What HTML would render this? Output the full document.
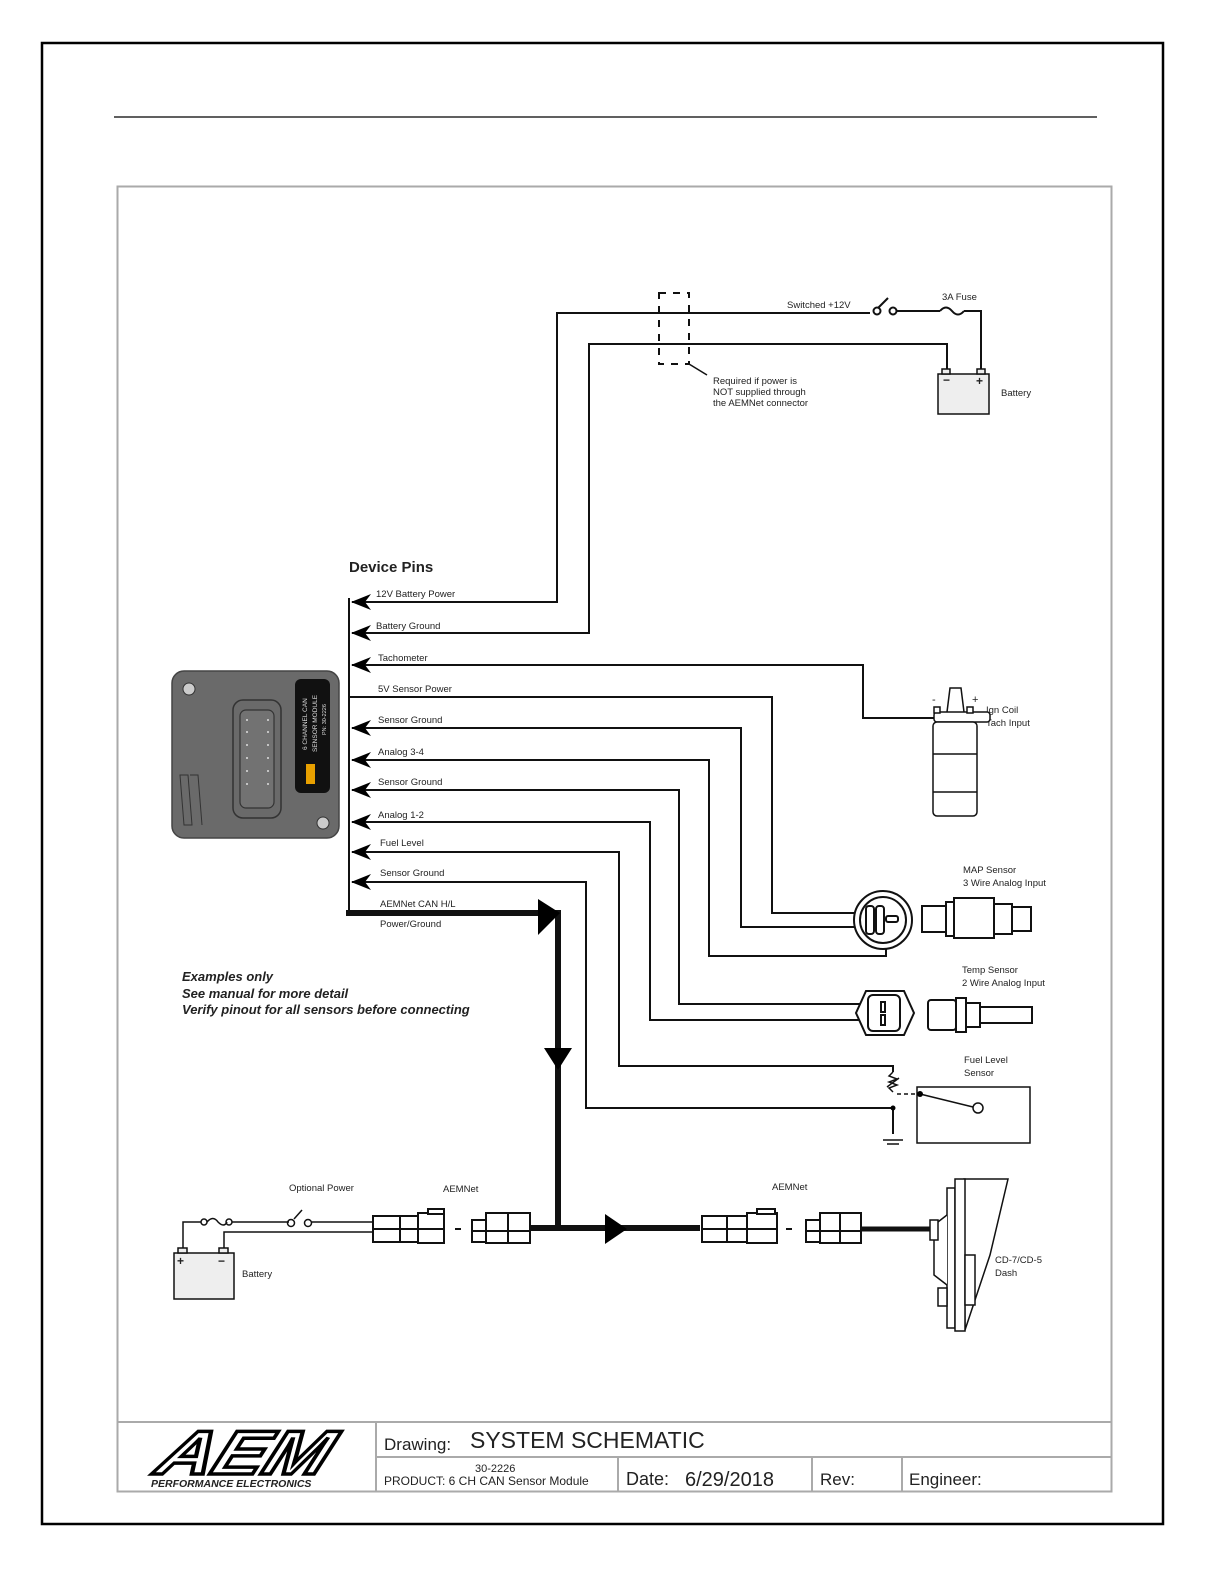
<!DOCTYPE html>
<html><head><meta charset="utf-8"><style>
html,body{margin:0;padding:0;background:#fff;overflow:hidden;width:1224px;height:1584px}
svg{display:block}
text{font-family:"Liberation Sans",sans-serif;fill:#222}
</style></head><body>
<svg width="1224" height="1584" viewBox="0 0 1224 1584" xmlns="http://www.w3.org/2000/svg">
<rect x="42" y="43" width="1121" height="1481" fill="none" stroke="#000" stroke-width="2.5"/>
<line x1="114" y1="117" x2="1097" y2="117" stroke="#000" stroke-width="1.2"/>
<rect x="117.5" y="186.5" width="994" height="1305" fill="none" stroke="#aaa" stroke-width="2"/>
<!-- title block -->
<g stroke="#aaa" stroke-width="2" fill="none">
<line x1="117" y1="1422" x2="1112" y2="1422"/>
<line x1="376" y1="1422" x2="376" y2="1491"/>
<line x1="376" y1="1457" x2="1112" y2="1457"/>
<line x1="618" y1="1457" x2="618" y2="1491"/>
<line x1="812" y1="1457" x2="812" y2="1491"/>
<line x1="902" y1="1457" x2="902" y2="1491"/>
</g>
<text x="384" y="1450" font-size="17">Drawing:</text>
<text x="470" y="1448" font-size="23">SYSTEM SCHEMATIC</text>
<text x="475" y="1472" font-size="11">30-2226</text>
<text x="384" y="1485" font-size="12">PRODUCT:  6 CH CAN Sensor Module</text>
<text x="626" y="1485" font-size="18">Date:</text>
<text x="685" y="1486" font-size="20">6/29/2018</text>
<text x="820" y="1485" font-size="17">Rev:</text>
<text x="909" y="1485" font-size="17">Engineer:</text>
<!-- AEM logo -->
<g transform="translate(238,1474) skewX(-22)">
<text x="0" y="0" font-size="62" font-weight="bold" font-style="italic" style="fill:#fff;stroke:#000;stroke-width:3.5" text-anchor="middle" textLength="170" lengthAdjust="spacingAndGlyphs">AEM</text>
</g>
<text x="151" y="1487" font-size="10.5" font-weight="bold" font-style="italic">PERFORMANCE ELECTRONICS</text>

<g fill="none" stroke="#111" stroke-width="2">
<line x1="349" y1="598" x2="349" y2="916"/>
<polyline points="352,602 557,602 557,313 870,313"/>
<circle cx="877" cy="311" r="3.5"/><circle cx="893" cy="311" r="3.5"/>
<line x1="878" y1="308" x2="888" y2="298"/>
<line x1="897" y1="311" x2="940" y2="311"/>
<path d="M940,311 q6,-7 12,0 q6,7 12,0" />
<polyline points="964,311 981,311 981,373"/>
<polyline points="352,633 589,633 589,344 947,344 947,373"/>
<polyline points="937,718 863,718 863,665 352,665"/>
<polyline points="349,697 772,697 772,913 862,913"/>
<polyline points="870,927 741,927 741,728 352,728"/>
<polyline points="886,928 886,956 709,956 709,760 352,760"/>
<polyline points="880,1004 679,1004 679,790 352,790"/>
<polyline points="880,1020 650,1020 650,822 352,822"/>
<polyline points="893,1072 893,1066 619,1066 619,852 352,852"/>
<polyline points="893,1134 893,1108 586,1108 586,882 352,882"/>
</g>
<g fill="#000">
<path d="M351,602 l20,-8 l-6,8 l6,8 Z"/>
<path d="M351,633 l20,-8 l-6,8 l6,8 Z"/>
<path d="M351,665 l20,-8 l-6,8 l6,8 Z"/>
<path d="M351,728 l20,-8 l-6,8 l6,8 Z"/>
<path d="M351,760 l20,-8 l-6,8 l6,8 Z"/>
<path d="M351,790 l20,-8 l-6,8 l6,8 Z"/>
<path d="M351,822 l20,-8 l-6,8 l6,8 Z"/>
<path d="M351,852 l20,-8 l-6,8 l6,8 Z"/>
<path d="M351,882 l20,-8 l-6,8 l6,8 Z"/>
</g>
<!-- thick CAN -->
<g stroke="#111" stroke-width="6" fill="none">
<polyline points="346,913 558,913 558,1228 530,1228"/>
<line x1="558" y1="1228" x2="700" y2="1228"/>
</g>
<path d="M538,899 L560,913 L538,935 Z" fill="#000"/>
<path d="M544,1048 L572,1048 L558,1070 Z" fill="#000"/>
<path d="M605,1214 L627,1229 L605,1244 Z" fill="#000"/>

<!-- labels -->
<text x="349" y="572" font-size="15" font-weight="bold">Device Pins</text>
<g font-size="9.5">
<text x="376" y="597">12V Battery Power</text>
<text x="376" y="629">Battery Ground</text>
<text x="378" y="661">Tachometer</text>
<text x="378" y="692">5V Sensor Power</text>
<text x="378" y="723">Sensor Ground</text>
<text x="378" y="755">Analog 3-4</text>
<text x="378" y="785">Sensor Ground</text>
<text x="378" y="818">Analog 1-2</text>
<text x="380" y="846">Fuel Level</text>
<text x="380" y="876">Sensor Ground</text>
<text x="380" y="907">AEMNet CAN H/L</text>
<text x="380" y="927">Power/Ground</text>
<text x="787" y="308">Switched +12V</text>
<text x="942" y="300">3A Fuse</text>
<text x="713" y="384">Required if power is</text>
<text x="713" y="395">NOT supplied through</text>
<text x="713" y="406">the AEMNet connector</text>
<text x="1001" y="396">Battery</text>
<text x="986" y="713">Ign Coil</text>
<text x="986" y="726">Tach Input</text>
<text x="963" y="873">MAP Sensor</text>
<text x="963" y="886">3 Wire Analog Input</text>
<text x="962" y="973">Temp Sensor</text>
<text x="962" y="986">2 Wire Analog Input</text>
<text x="964" y="1063">Fuel Level</text>
<text x="964" y="1076">Sensor</text>
<text x="289" y="1191">Optional Power</text>
<text x="443" y="1192">AEMNet</text>
<text x="772" y="1190">AEMNet</text>
<text x="242" y="1277">Battery</text>
<text x="995" y="1263">CD-7/CD-5</text>
<text x="995" y="1276">Dash</text>
</g>
<g font-size="13" font-weight="bold" font-style="italic">
<text x="182" y="981">Examples only</text>
<text x="182" y="998">See manual for more detail</text>
<text x="182" y="1014">Verify pinout for all sensors before connecting</text>
</g>

<rect x="659" y="293" width="30" height="71" fill="none" stroke="#111" stroke-width="2" stroke-dasharray="7,7"/>
<line x1="689" y1="364" x2="707" y2="375" stroke="#111" stroke-width="1.5"/>
<g stroke="#111" stroke-width="1.5">
<rect x="938" y="374" width="51" height="40" fill="#eee"/>
<rect x="942" y="369" width="8" height="5" fill="#eee"/>
<rect x="977" y="369" width="8" height="5" fill="#eee"/>
</g>
<text x="943" y="384" font-size="12" font-weight="bold">−</text>
<text x="976" y="385" font-size="12" font-weight="bold">+</text>

<!-- module -->
<rect x="172" y="671" width="167" height="167" rx="12" fill="#6a6a6a" stroke="#444" stroke-width="1.5"/>
<circle cx="189" cy="689" r="6" fill="#ccc" stroke="#333"/>
<circle cx="323" cy="823" r="6" fill="#ccc" stroke="#333"/>
<rect x="233" y="700" width="48" height="118" rx="10" fill="#6a6a6a" stroke="#333" stroke-width="1.5"/>
<rect x="240" y="710" width="34" height="98" rx="6" fill="#727272" stroke="#333" stroke-width="1.2"/>
<g fill="#ddd"><circle cx="247" cy="720" r="1"/><circle cx="247" cy="732" r="1"/><circle cx="247" cy="745" r="1"/><circle cx="247" cy="758" r="1"/><circle cx="247" cy="771" r="1"/><circle cx="247" cy="784" r="1"/><circle cx="268" cy="720" r="1"/><circle cx="268" cy="732" r="1"/><circle cx="268" cy="745" r="1"/><circle cx="268" cy="758" r="1"/><circle cx="268" cy="771" r="1"/><circle cx="268" cy="784" r="1"/></g>
<rect x="295" y="679" width="35" height="114" rx="6" fill="#111"/>
<text transform="translate(307,750) rotate(-90)" font-size="6.5" style="fill:#ddd">6 CHANNEL CAN</text>
<text transform="translate(317,752) rotate(-90)" font-size="6.5" style="fill:#ddd">SENSOR MODULE</text>
<text transform="translate(326,735) rotate(-90)" font-size="5.5" style="fill:#ddd">PN: 30-2226</text>
<rect x="306" y="764" width="9" height="20" fill="#e8a000"/>
<g stroke="#333" stroke-width="1" fill="none"><path d="M180,775 l8,0 l4,50 l-8,0 z M190,775 l8,0 l4,50"/></g>

<!-- ign coil -->
<g stroke="#111" stroke-width="1.5" fill="#fff">
<path d="M947,712 L950,688 L961,688 L964,712"/>
<rect x="934" y="712" width="56" height="10" rx="3"/>
<rect x="934" y="707" width="6" height="6"/><rect x="967" y="707" width="6" height="6"/>
<rect x="933" y="722" width="44" height="94" rx="4"/>
<line x1="933" y1="754" x2="977" y2="754"/><line x1="933" y1="792" x2="977" y2="792"/>
</g>
<text x="932" y="703" font-size="11">-</text>
<text x="972" y="703" font-size="11">+</text>

<!-- MAP sensor -->
<g stroke="#111" stroke-width="2" fill="#fff">
<circle cx="883" cy="920" r="29"/><circle cx="883" cy="920" r="23"/>
<rect x="866" y="906" width="8" height="28" rx="3"/>
<rect x="876" y="906" width="8" height="28" rx="3"/>
<rect x="886" y="916" width="12" height="6" rx="2"/>
<rect x="922" y="906" width="24" height="26"/>
<rect x="946" y="902" width="8" height="34"/>
<rect x="954" y="898" width="40" height="40"/>
<rect x="994" y="904" width="18" height="30"/>
<rect x="1012" y="907" width="19" height="24"/>
</g>
<!-- temp sensor -->
<g stroke="#111" stroke-width="2" fill="#fff">
<path d="M866,991 L904,991 L914,1013 L904,1035 L866,1035 L856,1013 Z"/>
<rect x="868" y="995" width="32" height="36" rx="5"/>
<rect x="881" y="1002" width="4" height="10"/><rect x="881" y="1015" width="4" height="10"/>
<rect x="928" y="1000" width="28" height="30" rx="3"/>
<rect x="956" y="998" width="10" height="34"/>
<rect x="966" y="1003" width="14" height="24"/>
<rect x="980" y="1007" width="52" height="16"/>
</g>
<!-- fuel sensor -->
<g stroke="#111" stroke-width="1.5" fill="none">
<rect x="917" y="1087" width="113" height="56"/>
<path d="M893,1072 l-4,4 l8,3 l-8,3 l8,3 l-8,3 l4,4"/>
<line x1="887" y1="1087" x2="899" y2="1078"/>
<line x1="897" y1="1094" x2="917" y2="1094" stroke-dasharray="4,3"/>
<line x1="920" y1="1094" x2="973" y2="1107"/>
<circle cx="978" cy="1108" r="5" fill="#fff"/>
<line x1="883" y1="1140" x2="903" y2="1140"/><line x1="887" y1="1144" x2="899" y2="1144"/>
</g>
<circle cx="920" cy="1094" r="3" fill="#000"/>
<circle cx="893" cy="1108" r="2.5" fill="#000"/>

<!-- bottom battery -->
<g stroke="#111" stroke-width="1.5" fill="none">
<polyline points="183,1248 183,1222 201,1222"/>
<circle cx="204" cy="1222" r="3"/>
<path d="M207,1222 q6,-7 11,0 q6,6 9,0"/>
<circle cx="229" cy="1222" r="3"/>
<line x1="232" y1="1222" x2="289" y2="1222"/>
<circle cx="291" cy="1223" r="3.5"/><circle cx="308" cy="1223" r="3.5"/>
<line x1="294" y1="1219" x2="302" y2="1210"/>
<line x1="312" y1="1222" x2="372" y2="1222"/>
<polyline points="224,1248 224,1232 372,1232"/>
<rect x="174" y="1253" width="60" height="46" fill="#eee"/>
<rect x="178" y="1248" width="9" height="5" fill="#eee"/><rect x="219" y="1248" width="9" height="5" fill="#eee"/>
</g>
<text x="177" y="1265" font-size="12" font-weight="bold">+</text>
<text x="218" y="1265" font-size="12" font-weight="bold">−</text>

<!-- connectors -->
<g stroke="#111" stroke-width="2" fill="#fff">
<rect x="373" y="1216" width="45" height="26"/><rect x="418" y="1213" width="26" height="30"/>
<line x1="373" y1="1229" x2="444" y2="1229"/><line x1="400" y1="1216" x2="400" y2="1242"/>
<rect x="428" y="1209" width="16" height="5"/>
<rect x="472" y="1220" width="14" height="22"/><rect x="486" y="1213" width="44" height="30"/>
<line x1="472" y1="1231" x2="530" y2="1231"/><line x1="508" y1="1213" x2="508" y2="1243"/>
<rect x="702" y="1216" width="45" height="26"/><rect x="747" y="1213" width="30" height="30"/>
<line x1="702" y1="1229" x2="777" y2="1229"/><line x1="727" y1="1216" x2="727" y2="1242"/>
<rect x="757" y="1209" width="18" height="5"/>
<rect x="806" y="1220" width="14" height="22"/><rect x="820" y="1213" width="41" height="30"/>
<line x1="806" y1="1231" x2="861" y2="1231"/><line x1="840" y1="1213" x2="840" y2="1243"/>
</g>
<line x1="455" y1="1229" x2="461" y2="1229" stroke="#111" stroke-width="2"/>
<line x1="786" y1="1229" x2="792" y2="1229" stroke="#111" stroke-width="2"/>
<line x1="530" y1="1228" x2="558" y2="1228" stroke="#111" stroke-width="6"/>
<line x1="861" y1="1229" x2="932" y2="1229" stroke="#111" stroke-width="5"/>

<!-- dash -->
<g stroke="#111" stroke-width="1.5" fill="#fff">
<path d="M964,1179 L1008,1179 L990,1255 L965,1330 Z"/>
<rect x="947" y="1188" width="8" height="140"/>
<rect x="955" y="1179" width="10" height="152"/>
<path d="M947,1215 L934,1225 L934,1275 L947,1285"/>
<rect x="930" y="1220" width="8" height="20"/>
<rect x="965" y="1255" width="10" height="50"/>
<rect x="938" y="1288" width="9" height="18"/>
</g>
</svg>
</body></html>
